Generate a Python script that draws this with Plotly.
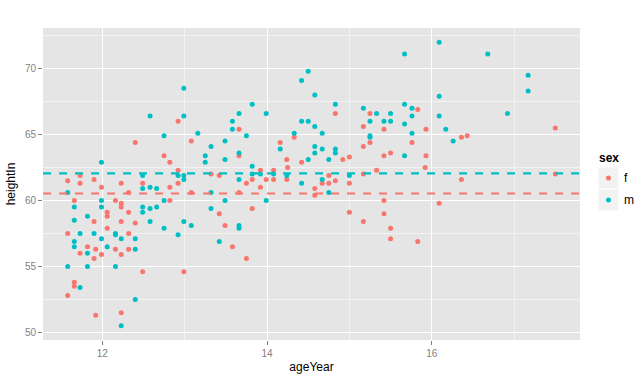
import plotly.graph_objects as go

# ---- data ----
f_age = [12.92, 13.66, 14.83, 15.25, 15.17, 15.42, 15.83, 15.93, 16.43, 17.50,
         12.40, 13.08, 12.75, 12.82, 12.92, 13.32, 11.73, 11.58, 11.73, 11.90,
         12.49, 12.23, 11.99, 12.82, 12.92, 12.32, 13.08, 12.82, 11.66, 12.16,
         12.23, 12.23, 12.06, 12.06, 12.32, 13.42, 11.90, 12.23, 12.40, 12.06,
         11.58, 12.32, 11.82, 11.92, 12.16, 12.32, 11.73, 11.99, 12.23, 11.90,
         12.49, 12.99, 11.66, 11.66, 11.58, 12.23, 11.92, 13.58, 13.75, 15.50,
         15.83, 14.33, 13.66, 14.16, 14.24, 14.25, 14.42, 14.92, 15.00, 15.25,
         15.17, 15.42, 15.50, 13.92, 14.08, 13.75, 13.82, 13.99, 14.08, 14.24,
         13.92, 14.67, 14.75, 14.75, 14.83, 15.00, 15.17, 15.33, 13.66, 14.58,
         14.58, 13.82, 15.42, 15.00, 15.42, 13.49, 15.17, 15.50, 15.76, 15.93,
         15.92, 16.36, 16.36, 17.50, 16.09, 13.42]
f_height = [66.0, 65.4, 66.6, 66.6, 65.6, 65.4, 66.9, 65.4, 64.9, 65.5,
            64.4, 64.5, 63.4, 62.9, 62.3, 62.0, 61.9, 61.5, 61.3, 61.6,
            61.3, 61.3, 61.0, 61.0, 61.3, 60.6, 60.6, 60.0, 60.0, 60.0,
            59.8, 59.5, 59.1, 58.8, 59.1, 59.0, 58.4, 58.4, 58.3, 57.9,
            57.5, 57.5, 56.5, 56.3, 56.3, 56.3, 56.0, 55.9, 55.9, 55.6,
            54.6, 54.6, 53.8, 53.5, 52.8, 51.5, 51.3, 56.5, 55.6, 57.1,
            56.9, 64.8, 63.4, 64.4, 63.1, 62.5, 62.9, 63.1, 63.3, 64.4,
            64.1, 63.4, 63.6, 62.3, 62.3, 61.3, 61.6, 61.6, 61.6, 61.6,
            61.0, 61.3, 61.9, 61.3, 61.5, 61.3, 62.0, 62.3, 60.6, 60.9,
            60.4, 59.4, 60.0, 59.1, 59.0, 58.1, 58.4, 57.9, 64.4, 63.4,
            62.5, 64.8, 61.6, 62.0, 59.8, 61.9]

m_age = [12.99, 12.58, 12.99, 12.75, 13.16, 14.50, 14.42, 14.58, 13.82, 14.83,
         13.66, 13.99, 13.58, 13.58, 13.75, 14.42, 14.50, 14.58, 14.33, 14.67,
         15.17, 15.33, 15.50, 15.25, 15.42, 15.50, 15.25, 16.09, 15.67, 16.68,
         17.17, 17.17, 16.09, 16.92, 15.67, 15.76, 15.76, 15.67, 15.76, 16.09,
         16.17, 13.32, 13.25, 13.25, 11.99, 12.92, 12.99, 12.99, 12.49, 12.58,
         12.49, 12.66, 11.58, 13.32, 12.75, 11.99, 11.66, 11.99, 12.49, 12.58,
         12.66, 12.49, 11.82, 13.32, 11.66, 12.58, 12.99, 13.08, 12.75, 11.73,
         11.90, 12.16, 12.16, 11.99, 12.92, 11.66, 12.23, 12.40, 11.66, 12.06,
         12.40, 11.82, 11.58, 11.82, 12.16, 11.73, 12.40, 12.23, 13.42, 13.49,
         13.49, 13.66, 14.16, 14.58, 14.67, 14.83, 14.83, 14.58, 14.50, 14.75,
         15.25, 13.82, 13.82, 13.92, 14.08, 14.24, 13.66, 14.42, 14.67, 15.00,
         14.75, 13.49, 13.99, 13.66, 13.66, 15.67, 16.26]
m_height = [68.5, 66.4, 66.4, 64.9, 65.1, 69.8, 69.1, 68.0, 67.3, 67.3,
            66.6, 66.6, 66.0, 65.4, 64.9, 66.0, 66.0, 65.6, 65.1, 65.1,
            67.0, 66.6, 66.6, 66.0, 66.0, 66.0, 64.9, 72.0, 71.1, 71.1,
            69.5, 68.3, 67.9, 66.6, 67.3, 67.0, 66.4, 65.8, 65.1, 66.4,
            65.4, 64.1, 63.4, 62.9, 62.9, 61.9, 61.9, 61.6, 61.9, 61.0,
            60.9, 60.9, 60.6, 60.6, 60.0, 60.0, 59.5, 59.5, 59.5, 59.4,
            59.5, 59.1, 58.8, 59.4, 58.5, 58.4, 58.4, 58.1, 57.9, 57.5,
            57.5, 57.5, 57.4, 57.1, 57.4, 56.9, 57.1, 57.1, 56.5, 56.5,
            56.3, 56.0, 55.0, 55.0, 55.0, 53.4, 52.5, 50.5, 56.9, 64.5,
            63.1, 63.6, 63.9, 64.1, 63.9, 63.9, 63.6, 63.6, 63.1, 63.1,
            64.8, 62.6, 62.0, 62.0, 62.0, 61.9, 61.6, 61.3, 61.6, 61.9,
            60.6, 60.0, 60.0, 58.1, 57.9, 63.4, 64.5]

sexes = ["f", "m"]
mean_height = {"f": 60.53, "m": 62.06}
legend_title = "sex"

x_ticks = [12, 14, 16]
y_ticks = [50, 55, 60, 65, 70]

colors = {"f": "#F8766D", "m": "#00BFC4"}
FONT = "Liberation Sans, Arial, sans-serif"

fig = go.Figure()
for s, xs, ys in [("f", f_age, f_height), ("m", m_age, m_height)]:
    fig.add_trace(go.Scatter(
        x=xs, y=ys, mode="markers", name=s, showlegend=False,
        marker=dict(color=colors[s], size=5, line=dict(width=0)),
    ))

# dashed horizontal mean lines (span whole panel)
for s in sexes:
    fig.add_shape(type="line", xref="x domain", yref="y",
                  x0=0, x1=1, y0=mean_height[s], y1=mean_height[s],
                  line=dict(color=colors[s], width=2.2, dash="8px,8px"),
                  layer="above")

# ---- legend drawn as a ggplot-style key ----
L, R, T, B = 43, 580, 28, 340
pw, ph = R - L, B - T
def px(xp): return (xp - L) / pw
def py(yp): return (B - yp) / ph

fig.add_annotation(xref="paper", yref="paper", x=px(597), y=py(158),
                   xanchor="left", yanchor="middle", showarrow=False,
                   text="<b>" + legend_title + "</b>",
                   font=dict(family=FONT, size=12, color="black"))
key_rows = {"f": (167, 189), "m": (189, 211)}
for s in sexes:
    y0, y1 = key_rows[s]
    yc = (y0 + y1) / 2
    fig.add_shape(type="rect", xref="paper", yref="paper",
                  x0=px(598), x1=px(619), y0=py(y1), y1=py(y0),
                  fillcolor="#F2F2F2", line=dict(color="white", width=1),
                  layer="below")
    fig.add_shape(type="circle", xref="paper", yref="paper",
                  xsizemode="pixel", ysizemode="pixel",
                  xanchor=px(608.5), yanchor=py(yc),
                  x0=-2.5, x1=2.5, y0=-2.5, y1=2.5,
                  fillcolor=colors[s], line=dict(width=0))
    fig.add_annotation(xref="paper", yref="paper", x=px(622), y=py(yc),
                       xanchor="left", yanchor="middle", showarrow=False,
                       text=s, font=dict(family=FONT, size=12, color="black"))

axis_common = dict(
    showgrid=True, gridcolor="white", gridwidth=1.1,
    zeroline=False, showline=False,
    ticks="outside", ticklen=4, tickcolor="#7F7F7F", tickwidth=1,
    tickfont=dict(family=FONT, size=10, color="#7F7F7F"),
)

fig.update_layout(
    width=638, height=390,
    margin=dict(l=L, r=638 - R, t=T, b=390 - B, autoexpand=False),
    paper_bgcolor="white", plot_bgcolor="#E5E5E5",
    font=dict(family=FONT, size=12, color="black"),
    showlegend=False,
    xaxis=dict(range=[11.28, 17.80], tickvals=x_ticks,
               ticktext=[str(v) for v in x_ticks],
               minor=dict(tickvals=[11, 13, 15, 17], showgrid=True,
                          gridcolor="#F2F2F2", gridwidth=0.6, ticks=""),
               title=dict(text="ageYear", font=dict(family=FONT, size=12, color="black"),
                          standoff=4),
               **axis_common),
    yaxis=dict(range=[49.425, 73.075], tickvals=y_ticks,
               ticktext=[str(v) for v in y_ticks],
               minor=dict(tickvals=[52.5, 57.5, 62.5, 67.5, 72.5], showgrid=True,
                          gridcolor="#F2F2F2", gridwidth=0.6, ticks=""),
               title=dict(text="heightIn", font=dict(family=FONT, size=12, color="black"),
                          standoff=6),
               **axis_common),
)

fig.write_html("out.html", config={"displayModeBar": False})

# remove the browser's default page margin so the figure sits at (0, 0)
with open("out.html", "r", encoding="utf-8") as fh:
    html = fh.read()
html = html.replace("<head>", "<head><style>html,body{margin:0;padding:0;}</style>", 1)
with open("out.html", "w", encoding="utf-8") as fh:
    fh.write(html)
